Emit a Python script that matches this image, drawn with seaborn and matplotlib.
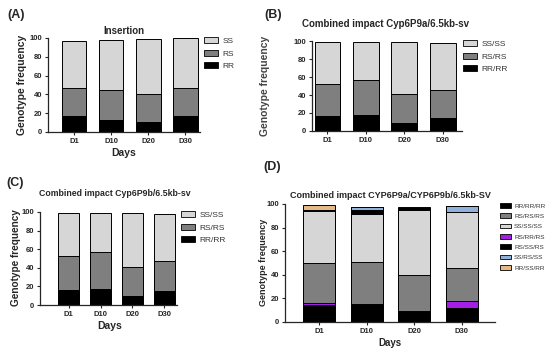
import numpy as np
import matplotlib
matplotlib.use("Agg")
import matplotlib.pyplot as plt
from matplotlib.patches import Patch
import seaborn as sns

days = ["D1", "D10", "D20", "D30"]

# (A) Insertion
ins_rr = [16.7, 13.2, 10.3, 16.7]
ins_rs = [30.5, 31.9, 30.6, 30.5]
ins_ss = [49.6, 53.2, 58.4, 52.8]

# (B) Cyp6P9a/6.5kb-sv
b_rr = [16.2, 17.3, 8.5, 14.8]
b_rs = [35.5, 39.9, 32.1, 30.6]
b_ss = [47.2, 41.7, 58.3, 52.4]

# (C) Cyp6P9b/6.5kb-sv
c_rr = [16.4, 17.1, 9.6, 15.4]
c_rs = [36.1, 40.4, 31.4, 31.4]
c_ss = [46.8, 41.8, 58.3, 51.4]

# (D) CYP6P9a/CYP6P9b/6.5kb-SV
d_rr_rr_rr = [14.4, 14.7, 8.5, 11.6]
d_rs_rr_rs = [1.7, 0.3, 0.8, 6.5]
d_rs_rs_rs = [33.8, 35.7, 30.6, 27.5]
d_ss_ss_ss = [43.9, 41.1, 55.0, 47.3]
d_rs_ss_rs = [0.0, 3.4, 1.7, 0.0]
d_ss_rs_ss = [1.0, 2.0, 0.0, 5.1]
d_rr_ss_rr = [4.0, 0.0, 0.6, 0.0]

LIGHT = "#d6d6d6"
MID = "#7f7f7f"
BLACK = "#000000"
PURPLE = "#a41ee6"
BLUE = "#8fb1dc"
TAN = "#e6b887"

sns.set_style("ticks")
plt.rcParams["font.family"] = ["Liberation Sans", "DejaVu Sans"]
plt.rcParams["font.weight"] = "bold"

W, H = 550, 351
fig = plt.figure(figsize=(5.5, 3.51), dpi=100)


def make_ax(left, right, top, bottom):
    return fig.add_axes([left / W, 1 - bottom / H, (right - left) / W, (bottom - top) / H])


def draw_stack(ax, layers, colors, xlim):
    # draw cumulative tops, tallest first, so the stacks overlap correctly
    cum = np.cumsum(np.array(layers), axis=0)
    for i in range(len(layers) - 1, -1, -1):
        sns.barplot(x=days, y=cum[i], color=colors[i], saturation=1, width=0.67,
                    edgecolor="black", linewidth=0.7, ax=ax)
    ax.set_ylim(0, 100)
    ax.set_xlim(*xlim)
    ax.set_yticks([0, 20, 40, 60, 80, 100])
    sns.despine(ax=ax)
    for s in ["left", "bottom"]:
        ax.spines[s].set_linewidth(0.9)
    ax.tick_params(axis="both", labelsize=5.5, length=2.5, width=0.8, pad=1.5)
    for lab in ax.get_xticklabels() + ax.get_yticklabels():
        lab.set_fontweight("bold")
    ax.set_xlabel("")
    ax.set_ylabel("")


def add_legend(ax, labels, colors, x, y, size=6, spacing=0.55):
    handles = [Patch(facecolor=c, edgecolor="black", linewidth=0.6) for c in colors]
    leg = ax.legend(handles, labels, loc="upper left", bbox_to_anchor=(x / W, 1 - y / H),
                    bbox_transform=fig.transFigure, frameon=False, fontsize=size,
                    handlelength=1.7, handleheight=0.75, labelspacing=spacing,
                    handletextpad=0.5, borderaxespad=0, borderpad=0)
    for t in leg.get_texts():
        t.set_fontweight("normal")
        t.set_color("#333333")
    return leg


# (A)
axA = make_ax(48, 200, 38, 132)
draw_stack(axA, [ins_rr, ins_rs, ins_ss], [BLACK, MID, LIGHT], (-0.7, 3.4))
axA.set_title("Insertion", fontsize=7, fontweight="bold", pad=3)
add_legend(axA, ["SS", "RS", "RR"], [LIGHT, MID, BLACK], 204, 37)
fig.text(22 / W, 1 - 85 / H, "Genotype frequency", rotation=90, ha="center", va="center",
         fontsize=7.5, fontweight="bold")
fig.text(124 / W, 1 - 153 / H, "Days", ha="center", va="center", fontsize=7.5, fontweight="bold")
fig.text(7 / W, 1 - 15 / H, "(A)", ha="left", va="center", fontsize=9, fontweight="bold")

# (B)
axB = make_ax(312, 462, 41, 131)
draw_stack(axB, [b_rr, b_rs, b_ss], [BLACK, MID, LIGHT], (-0.4, 3.5))
fig.text(385 / W, 1 - 24 / H, "Combined impact Cyp6P9a/6.5kb-sv", ha="center", va="center",
         fontsize=7, fontweight="bold")
add_legend(axB, ["SS/SS", "RS/RS", "RR/RR"], [LIGHT, MID, BLACK], 463, 40)
fig.text(265 / W, 1 - 86 / H, "Genotype frequency", rotation=90, ha="center", va="center",
         fontsize=7.5, fontweight="bold", color="#444444")
fig.text(264 / W, 1 - 15 / H, "(B)", ha="left", va="center", fontsize=9, fontweight="bold")

# (C)
axC = make_ax(40, 177, 212, 305)
draw_stack(axC, [c_rr, c_rs, c_ss], [BLACK, MID, LIGHT], (-0.9, 3.4))
fig.text(115 / W, 1 - 194 / H, "Combined impact Cyp6P9b/6.5kb-sv", ha="center", va="center",
         fontsize=6.3, fontweight="bold")
add_legend(axC, ["SS/SS", "RS/RS", "RR/RR"], [LIGHT, MID, BLACK], 181, 211)
fig.text(16 / W, 1 - 258 / H, "Genotype frequency", rotation=90, ha="center", va="center",
         fontsize=7.2, fontweight="bold")
fig.text(110 / W, 1 - 326 / H, "Days", ha="center", va="center", fontsize=7.5, fontweight="bold")
fig.text(6 / W, 1 - 183 / H, "(C)", ha="left", va="center", fontsize=9, fontweight="bold")

# (D)
axD = make_ax(285, 495, 204, 322)
d_layers = [d_rr_rr_rr, d_rs_rr_rs, d_rs_rs_rs, d_ss_ss_ss, d_rs_ss_rs, d_ss_rs_ss, d_rr_ss_rr]
d_colors = [BLACK, PURPLE, MID, LIGHT, BLACK, BLUE, TAN]
draw_stack(axD, d_layers, d_colors, (-0.72, 3.7))
fig.text(390 / W, 1 - 196 / H, "Combined impact CYP6P9a/CYP6P9b/6.5kb-SV", ha="center",
         va="center", fontsize=6.5, fontweight="bold")
add_legend(axD, ["RR/RR/RR", "RS/RS/RS", "SS/SS/SS", "RS/RR/RS", "RS/SS/RS", "SS/RS/SS", "RR/SS/RR"],
           [BLACK, MID, LIGHT, PURPLE, BLACK, BLUE, TAN], 500, 203, size=4.6, spacing=0.75)
fig.text(263 / W, 1 - 262 / H, "Genotype frequency", rotation=90, ha="center", va="center",
         fontsize=6.5, fontweight="bold")
fig.text(390 / W, 1 - 343 / H, "Days", ha="center", va="center", fontsize=7, fontweight="bold")
fig.text(263 / W, 1 - 167 / H, "(D)", ha="left", va="center", fontsize=9, fontweight="bold")

fig.savefig("out.png", dpi=100)
